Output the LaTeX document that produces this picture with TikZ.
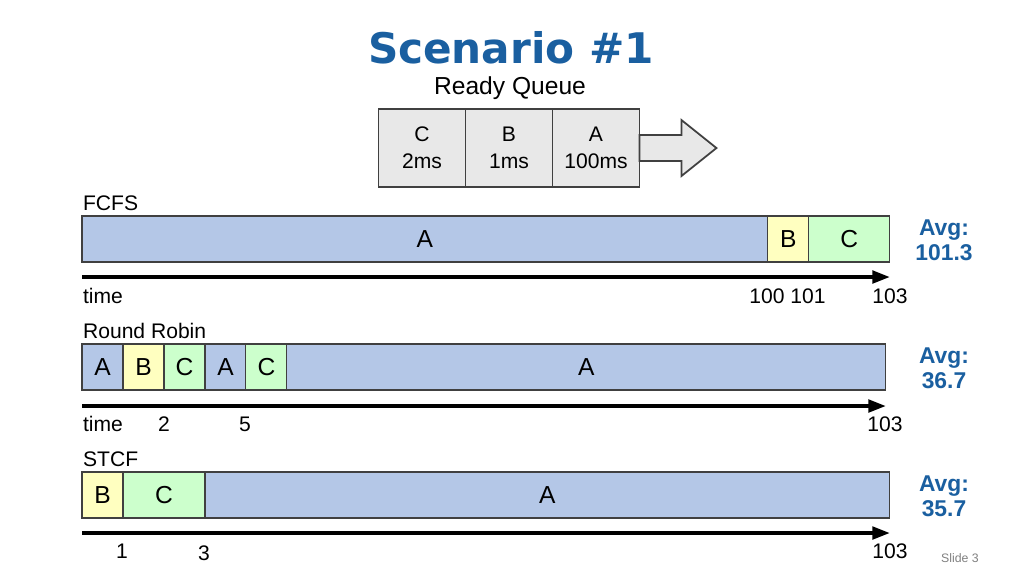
\documentclass[tikz,border=0pt]{standalone}
\usepackage{fontspec}
\setmainfont{Liberation Sans}
\newfontfamily\titlefont{DejaVu Sans}
\usepackage{xcolor}
\usetikzlibrary{arrows.meta,positioning}

\definecolor{slideblue}{RGB}{26,95,160}
\definecolor{procA}{RGB}{180,199,231}
\definecolor{procB}{RGB}{255,255,192}
\definecolor{procC}{RGB}{204,255,204}
\definecolor{queuegray}{RGB}{232,232,232}
\definecolor{edgegray}{RGB}{64,64,64}

\begin{document}
\begin{tikzpicture}[x=0.02cm,y=-0.02cm,font=\fontsize{12}{14}\selectfont]
\useasboundingbox (0,0) rectangle (1024,576);
% Styles: queue cells, bar slots, labels
\tikzstyle{qcell}=[draw=edgegray,fill=queuegray,line width=1pt,minimum width=1.74cm,minimum height=1.56cm,align=center,inner sep=0,outer sep=0,font=\fontsize{12}{15.5}\selectfont];
\tikzstyle{slot}=[draw=edgegray,line width=0.6pt,minimum height=0.92cm,inner sep=0,outer sep=0,anchor=west,font=\fontsize{14}{16}\selectfont];
\tikzstyle{timeline}=[line width=2.2pt,-{Triangle[length=10pt,width=7pt]}];
\tikzstyle{avg}=[align=center,text=slideblue,font=\bfseries\fontsize{13}{14.5}\selectfont];
\tikzstyle{section}=[anchor=west,inner sep=1pt];
% Title and ready queue
\node[font=\titlefont\bfseries\fontsize{24}{28}\selectfont,text=slideblue] (title) at (511,48) {Scenario \#1};
\node[font=\fontsize{14}{16}\selectfont] (rq) at (510,88) {Ready Queue};
\node[qcell] (qC) at (422,148) {C\\2ms};
\node[qcell,right=0pt of qC] (qB) {B\\1ms};
\node[qcell,right=0pt of qB] (qA) {A\\100ms};
\draw[draw=edgegray,fill=queuegray,line width=1pt] (qA.east) ++(0,-13) -- ++(42,0) -- ++(0,-15) -- ++(35,28) -- ++(-35,28) -- ++(0,-15) -- ++(-42,0) -- cycle;
% FCFS
\node[section] (fcfs) at (81,203) {FCFS};
\node[slot,fill=procA,minimum width=13.72cm] (fA) at (82,239) {A};
\node[slot,fill=procB,minimum width=0.82cm,right=0pt of fA] (fB) {B};
\node[slot,fill=procC,minimum width=1.62cm,right=0pt of fB] (fC) {C};
\node[avg] (fAvg) at (944,240) {Avg:\\101.3};
\coordinate (f0) at (82,277);
\coordinate (f1) at (890,277);
\draw[timeline] (f0) -- (f1);
\node[section] (fTime) at (81,296) {time};
\node (f100) at (767,296) {100};
\node (f101) at (808,296) {101};
\node (f103) at (890,296) {103};
% Round Robin
\node[section] (rr) at (81,331) {Round Robin};
\node[slot,fill=procA,minimum width=0.82cm] (r1) at (82,367) {A};
\node[slot,fill=procB,minimum width=0.82cm,right=0pt of r1] (r2) {B};
\node[slot,fill=procC,minimum width=0.82cm,right=0pt of r2] (r3) {C};
\node[slot,fill=procA,minimum width=0.82cm,right=0pt of r3] (r4) {A};
\node[slot,fill=procC,minimum width=0.82cm,right=0pt of r4] (r5) {C};
\node[slot,fill=procA,minimum width=11.98cm,right=0pt of r5] (r6) {A};
\node[avg] (rAvg) at (944,368) {Avg:\\36.7};
\coordinate (r0) at (82,406);
\coordinate (rEnd) at (886,406);
\draw[timeline] (r0) -- (rEnd);
\node[section] (rTime) at (81,424) {time};
\node (r2t) at (164,424) {2};
\node (r5t) at (245,424) {5};
\node (r103) at (885,424) {103};
% STCF
\node[section] (stcf) at (81,459) {STCF};
\node[slot,fill=procB,minimum width=0.82cm] (s1) at (82,495) {B};
\node[slot,fill=procC,minimum width=1.64cm,right=0pt of s1] (s2) {C};
\node[slot,fill=procA,minimum width=13.70cm,right=0pt of s2] (s3) {A};
\node[avg] (sAvg) at (944,496) {Avg:\\35.7};
\coordinate (s0) at (82,533);
\coordinate (sEnd) at (890,533);
\draw[timeline] (s0) -- (sEnd);
\node (s1t) at (122,551) {1};
\node (s3t) at (204,553) {3};
\node (s103) at (890,551) {103};
\node[text=gray,font=\fontsize{7}{8}\selectfont] (slideNo) at (960,558) {Slide 3};
\end{tikzpicture}
\end{document}
